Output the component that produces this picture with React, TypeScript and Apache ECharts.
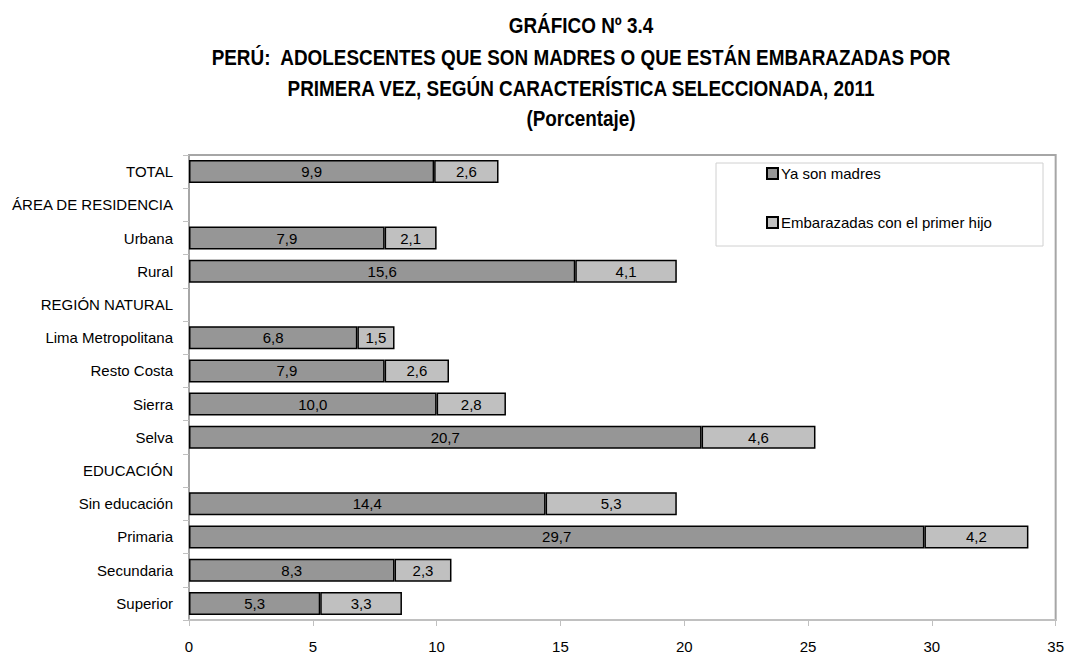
import React, { useEffect, useRef } from "react";
import * as echarts from "echarts";

const categories = [
  "TOTAL",
  "ÁREA DE RESIDENCIA",
  "Urbana",
  "Rural",
  "REGIÓN NATURAL",
  "Lima Metropolitana",
  "Resto Costa",
  "Sierra",
  "Selva",
  "EDUCACIÓN",
  "Sin educación",
  "Primaria",
  "Secundaria",
  "Superior",
];

const yaSonMadres = [9.9, null, 7.9, 15.6, null, 6.8, 7.9, 10.0, 20.7, null, 14.4, 29.7, 8.3, 5.3];
const embarazadas = [2.6, null, 2.1, 4.1, null, 1.5, 2.6, 2.8, 4.6, null, 5.3, 4.2, 2.3, 3.3];

const seriesNames = ["Ya son madres", "Embarazadas con el primer hijo"];

const titleLines = [
  "GRÁFICO Nº 3.4",
  "PERÚ:  ADOLESCENTES QUE SON MADRES O QUE ESTÁN EMBARAZADAS POR",
  "PRIMERA VEZ, SEGÚN CARACTERÍSTICA SELECCIONADA, 2011",
  "(Porcentaje)",
];

const xTicks = { min: 0, max: 35, interval: 5 };

const FONT = "'Liberation Sans', Arial, sans-serif";

const fmt = (v: number) => v.toFixed(1).replace(".", ",");

export default function App() {
  const ref = useRef<HTMLDivElement>(null);
  useEffect(() => {
    if (!ref.current) return;
    const chart = echarts.init(ref.current, null, { renderer: "svg" });
    const titleY = [25, 57, 88, 118];
    const option: any = {
      animation: false,
      backgroundColor: "#ffffff",
      textStyle: { fontFamily: FONT },
      grid: {
        left: 189,
        right: 10,
        top: 155,
        bottom: 35,
        show: true,
        borderColor: "#a6a6a6",
        borderWidth: 2,
        containLabel: false,
      },
      legend: {
        orient: "vertical",
        left: 761,
        top: 161,
        itemWidth: 11,
        itemHeight: 11,
        itemGap: 34,
        icon: "rect",
        textStyle: { fontFamily: FONT, fontSize: 15, color: "#000", padding: [0, 0, 0, -2] },
        data: seriesNames,
      },
      xAxis: {
        type: "value",
        min: xTicks.min,
        max: xTicks.max,
        interval: xTicks.interval,
        axisLine: { show: true, lineStyle: { color: "#c0c0c0", width: 2 } },
        axisTick: { show: true, length: 6, lineStyle: { color: "#c0c0c0" } },
        splitLine: { show: false },
        axisLabel: { fontFamily: FONT, fontSize: 15, color: "#000", margin: 19 },
      },
      yAxis: {
        type: "category",
        inverse: true,
        data: categories,
        axisLine: { show: true, lineStyle: { color: "#a6a6a6", width: 2 } },
        axisTick: { show: true, length: 6, lineStyle: { color: "#c0c0c0" } },
        axisLabel: { fontFamily: FONT, fontSize: 15, color: "#000", margin: 16 },
      },
      series: [
        {
          name: seriesNames[0],
          type: "bar",
          stack: "total",
          data: yaSonMadres,
          barWidth: 23,
          itemStyle: { color: "#969696", borderColor: "#000", borderWidth: 1.5 },
          label: {
            show: true,
            position: "inside",
            color: "#000",
            fontFamily: FONT,
            fontSize: 15,
            formatter: (p: any) => (p.value == null ? "" : fmt(p.value)),
          },
        },
        {
          name: seriesNames[1],
          type: "bar",
          stack: "total",
          data: embarazadas,
          barWidth: 23,
          itemStyle: { color: "#c0c0c0", borderColor: "#000", borderWidth: 1.5 },
          label: {
            show: true,
            position: "inside",
            color: "#000",
            fontFamily: FONT,
            fontSize: 15,
            formatter: (p: any) => (p.value == null ? "" : fmt(p.value)),
          },
        },
      ],
      graphic: [
        {
          type: "rect",
          z: 0,
          shape: { x: 716, y: 163, width: 327, height: 83 },
          style: { fill: "#fff", stroke: "#d0d0d0", lineWidth: 1 },
        },
        ...titleLines.map((t, i) => ({
          type: "text",
          x: 581,
          y: titleY[i],
          scaleX: 0.86,
          style: {
            text: t,
            fontFamily: FONT,
            fontSize: 22,
            fontWeight: "bold",
            fill: "#000",
            textAlign: "center",
            textVerticalAlign: "middle",
          },
        })),
      ],
    };
    chart.setOption(option);
    return () => chart.dispose();
  }, []);
  return (
    <div
      ref={ref}
      style={{ position: "fixed", left: 0, top: 0, width: 1067, height: 655 }}
    />
  );
}
